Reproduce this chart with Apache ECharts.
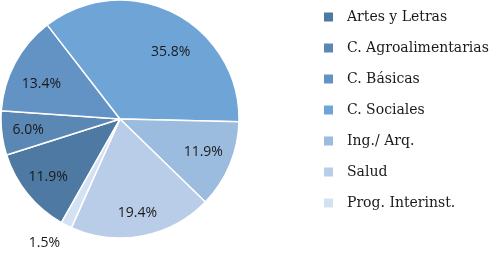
<!DOCTYPE html>
<html>
<head>
<meta charset="utf-8">
<script src="https://cdn.jsdelivr.net/npm/echarts@6/dist/echarts.min.js"></script>
<style>
  html, body { margin: 0; padding: 0; background: #fff; }
  #main { width: 503px; height: 262px; }
</style>
</head>
<body>
<div id="main"></div>
<script>
var myChart = echarts.init(document.getElementById('main'));

// categorias (orden de la leyenda y de las porciones)
var categorias = ['Artes y Letras', 'C. Agroalimentarias', 'C. Básicas', 'C. Sociales', 'Ing./ Arq.', 'Salud', 'Prog. Interinst.'];
var porcentajes = [11.9, 6.0, 13.4, 35.8, 11.9, 19.4, 1.5];
var colores = ['#4e79a2', '#5a87b4', '#6392c4', '#6fa5d6', '#9bbbdf', '#b9cde8', '#d3e2f2'];

var pieData = categorias.map(function (c, i) {
    return { name: c, value: porcentajes[i], itemStyle: { color: colores[i] } };
});

// serie transparente solo para las etiquetas (mas cerca del borde)
var labelData = categorias.map(function (c, i) {
    var item = { name: c, value: porcentajes[i] };
    if (i === 6) {
        item.label = { position: 'outside' };
        item.labelLine = { show: false, length: 14, length2: 0 };
    }
    return item;
});

// pequeños ajustes de etiquetas, como las coloca Excel
var ajustes = { 2: [3, 9], 3: [9, 16], 4: [-2, -3], 5: [0, 3], 6: [5, 5] };

option = {
    backgroundColor: '#fff',
    animation: false,
    legend: {
        orient: 'vertical',
        left: 317,
        top: 5,
        itemWidth: 11,
        itemHeight: 11,
        itemGap: 17,
        icon: 'rect',
        textStyle: {
            fontFamily: 'DejaVu Serif',
            fontSize: 14,
            color: '#1a1a1a',
            padding: [0, 0, 0, 8]
        },
        data: categorias
    },
    series: [{
        name: 'areas',
        type: 'pie',
        center: [120, 119],
        radius: [0, 119],
        startAngle: 240.5,
        clockwise: true,
        silent: true,
        label: { show: false },
        labelLine: { show: false },
        itemStyle: {
            borderColor: '#fff',
            borderWidth: 1.5
        },
        data: pieData
    }, {
        name: 'etiquetas',
        type: 'pie',
        center: [120, 119],
        radius: [60, 119],
        startAngle: 240.5,
        clockwise: true,
        silent: true,
        legendHoverLink: false,
        itemStyle: { color: 'rgba(0,0,0,0)' },
        label: {
            show: true,
            position: 'inside',
            formatter: function (p) { return p.value.toFixed(1) + '%'; },
            fontFamily: 'Open Sans',
            fontSize: 14,
            color: '#1a1a1a'
        },
        labelLayout: function (p) {
            var a = ajustes[p.dataIndex];
            return a ? { dx: a[0], dy: a[1] } : {};
        },
        labelLine: { show: false },
        data: labelData
    }]
};
myChart.setOption(option);
</script>
</body>
</html>
